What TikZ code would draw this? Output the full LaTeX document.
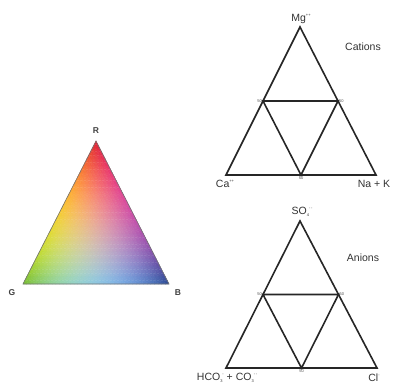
\documentclass[tikz,border=0pt]{standalone}
\usepackage{fontspec}
\setmainfont{Liberation Sans}
\usetikzlibrary{calc,positioning}

% tiny charge and index marks on the ion names
\newcommand\ionsup[1]{\raisebox{0.95ex}{\fontsize{4}{4}\selectfont#1}}
\newcommand\ionsub[1]{\raisebox{-0.45ex}{\fontsize{4}{4}\selectfont#1}}

% colour of one small cell of the RGB triangle, #1 = green part, #2 = blue part
% (quadratic blend of corner and mid-edge colours)
\newcommand\mixchan[7]{% R G B RG GB RB -> \chan
  \pgfmathsetmacro\chan{max(0,min(1,
    \wr*(2*\wr-1)*#1 + \wg*(2*\wg-1)*#2 + \wb*(2*\wb-1)*#3
    + 4*\wr*\wg*#4 + 4*\wg*\wb*#5 + 4*\wr*\wb*#6))}%
  \global\let#7\chan}
\newcommand\setmix[2]{%
  \pgfmathsetmacro\wg{#1}%
  \pgfmathsetmacro\wb{#2}%
  \pgfmathsetmacro\wr{1-\wg-\wb}%
  \mixchan{0.86}{0.47}{0.17}{0.96}{0.55}{0.80}\cr
  \mixchan{0.12}{0.74}{0.30}{0.80}{0.78}{0.30}\cg
  \mixchan{0.20}{0.20}{0.58}{0.20}{0.88}{0.65}\cb
  \definecolor{mix}{rgb}{\cr,\cg,\cb}}

\begin{document}
\begin{tikzpicture}[
  x=1pt, y=-1pt,
  edge/.style={line width=1.6pt, black!85},
  lab/.style={font=\fontsize{10.5}{12}\selectfont, text=black!80, inner sep=0pt},
  rgb/.style={font=\fontsize{8.5}{9}\selectfont\bfseries, text=black!75, inner sep=0pt},
  fifty/.style={font=\fontsize{4}{5}\selectfont, text=black!70, inner sep=0pt},
  ion/.style={font=\fontsize{10.5}{12}\selectfont, text=black!80, inner sep=0pt}
]
\useasboundingbox (0,0) rectangle (395,387);

% --- RGB triangle ---
\begin{scope}[shift={(96,141)}, x={(-1.825pt,-3.575pt)}, y={(1.825pt,-3.575pt)}]
\foreach \i in {0,...,39} {
  \pgfmathtruncatemacro\jmax{39-\i}
  \foreach \j in {0,...,\jmax} {
    \setmix{(\i+1/3)/40}{(\j+1/3)/40}
    \fill[mix] (\i,\j) -- (\i+1,\j) -- (\i,\j+1) -- cycle;
    \draw[mix, line width=0.3pt] (\i,\j) -- (\i+1,\j) -- (\i,\j+1) -- cycle;
    \pgfmathtruncatemacro\down{\i+\j<39 ? 1 : 0}
    \ifnum\down=1
      \setmix{(\i+2/3)/40}{(\j+2/3)/40}
      \fill[mix] (\i+1,\j) -- (\i+1,\j+1) -- (\i,\j+1) -- cycle;
      \draw[mix, line width=0.3pt] (\i+1,\j) -- (\i+1,\j+1) -- (\i,\j+1) -- cycle;
    \fi
  }
}
\end{scope}
\coordinate (vR) at (96,141);
\coordinate (vG) at (23,284);
\coordinate (vB) at (169,284);
\draw[black!55, line width=0.6pt] (vR) -- (vG) -- (vB) -- cycle;
\node[rgb] (R) at (96,131) {R};
\node[rgb] (G) at (12,293) {G};
\node[rgb] (B) at (178,293) {B};

% --- cations ---
\begin{scope}[shift={(0,0)}]
\coordinate (mg) at (300,27);
\coordinate (ca) at (226,175);
\coordinate (nak) at (376,175);
\coordinate (c1) at ($(mg)!0.5!(ca)$);
\coordinate (c2) at ($(mg)!0.5!(nak)$);
\coordinate (c3) at ($(ca)!0.5!(nak)$);
\draw[edge] (mg) -- (ca) -- (nak) -- cycle;
\draw[edge] (c1) -- (c2) -- (c3) -- cycle;
\node[ion] (mglab) at (301,19) {Mg\ionsup{++}};
\node[lab] (cat) at (363,47) {Cations};
\node[ion] (calab) at (225,184) {Ca\ionsup{++}};
\node[ion] (naklab) at (374,184) {Na + K};
\node[fifty, left=1pt of c1] (f1) {50};
\node[fifty, right=1pt of c2] (f2) {50};
\node[fifty, below=2pt of c3] (f3) {50};
\end{scope}

% --- anions ---
\begin{scope}[shift={(0,194)}]
\coordinate (so) at (300,27);
\coordinate (hco) at (226,174);
\coordinate (cl) at (377,174);
\coordinate (a1) at ($(so)!0.5!(hco)$);
\coordinate (a2) at ($(so)!0.5!(cl)$);
\coordinate (a3) at ($(hco)!0.5!(cl)$);
\draw[edge] (so) -- (hco) -- (cl) -- cycle;
\draw[edge] (a1) -- (a2) -- (a3) -- cycle;
\node[ion] (solab) at (302,18) {SO\ionsub{4}\ionsup{-\,-}};
\node[lab] (an) at (363,64) {Anions};
\node[ion] (hcolab) at (227,184) {HCO\ionsub{3}\ionsup{-} + CO\ionsub{3}\ionsup{-\,-}};
\node[ion] (cllab) at (374,184) {Cl\ionsup{-}};
\node[fifty, left=1pt of a1] (g1) {50};
\node[fifty, right=1pt of a2] (g2) {50};
\node[fifty, below=2pt of a3] (g3) {50};
\end{scope}

\end{tikzpicture}
\end{document}
